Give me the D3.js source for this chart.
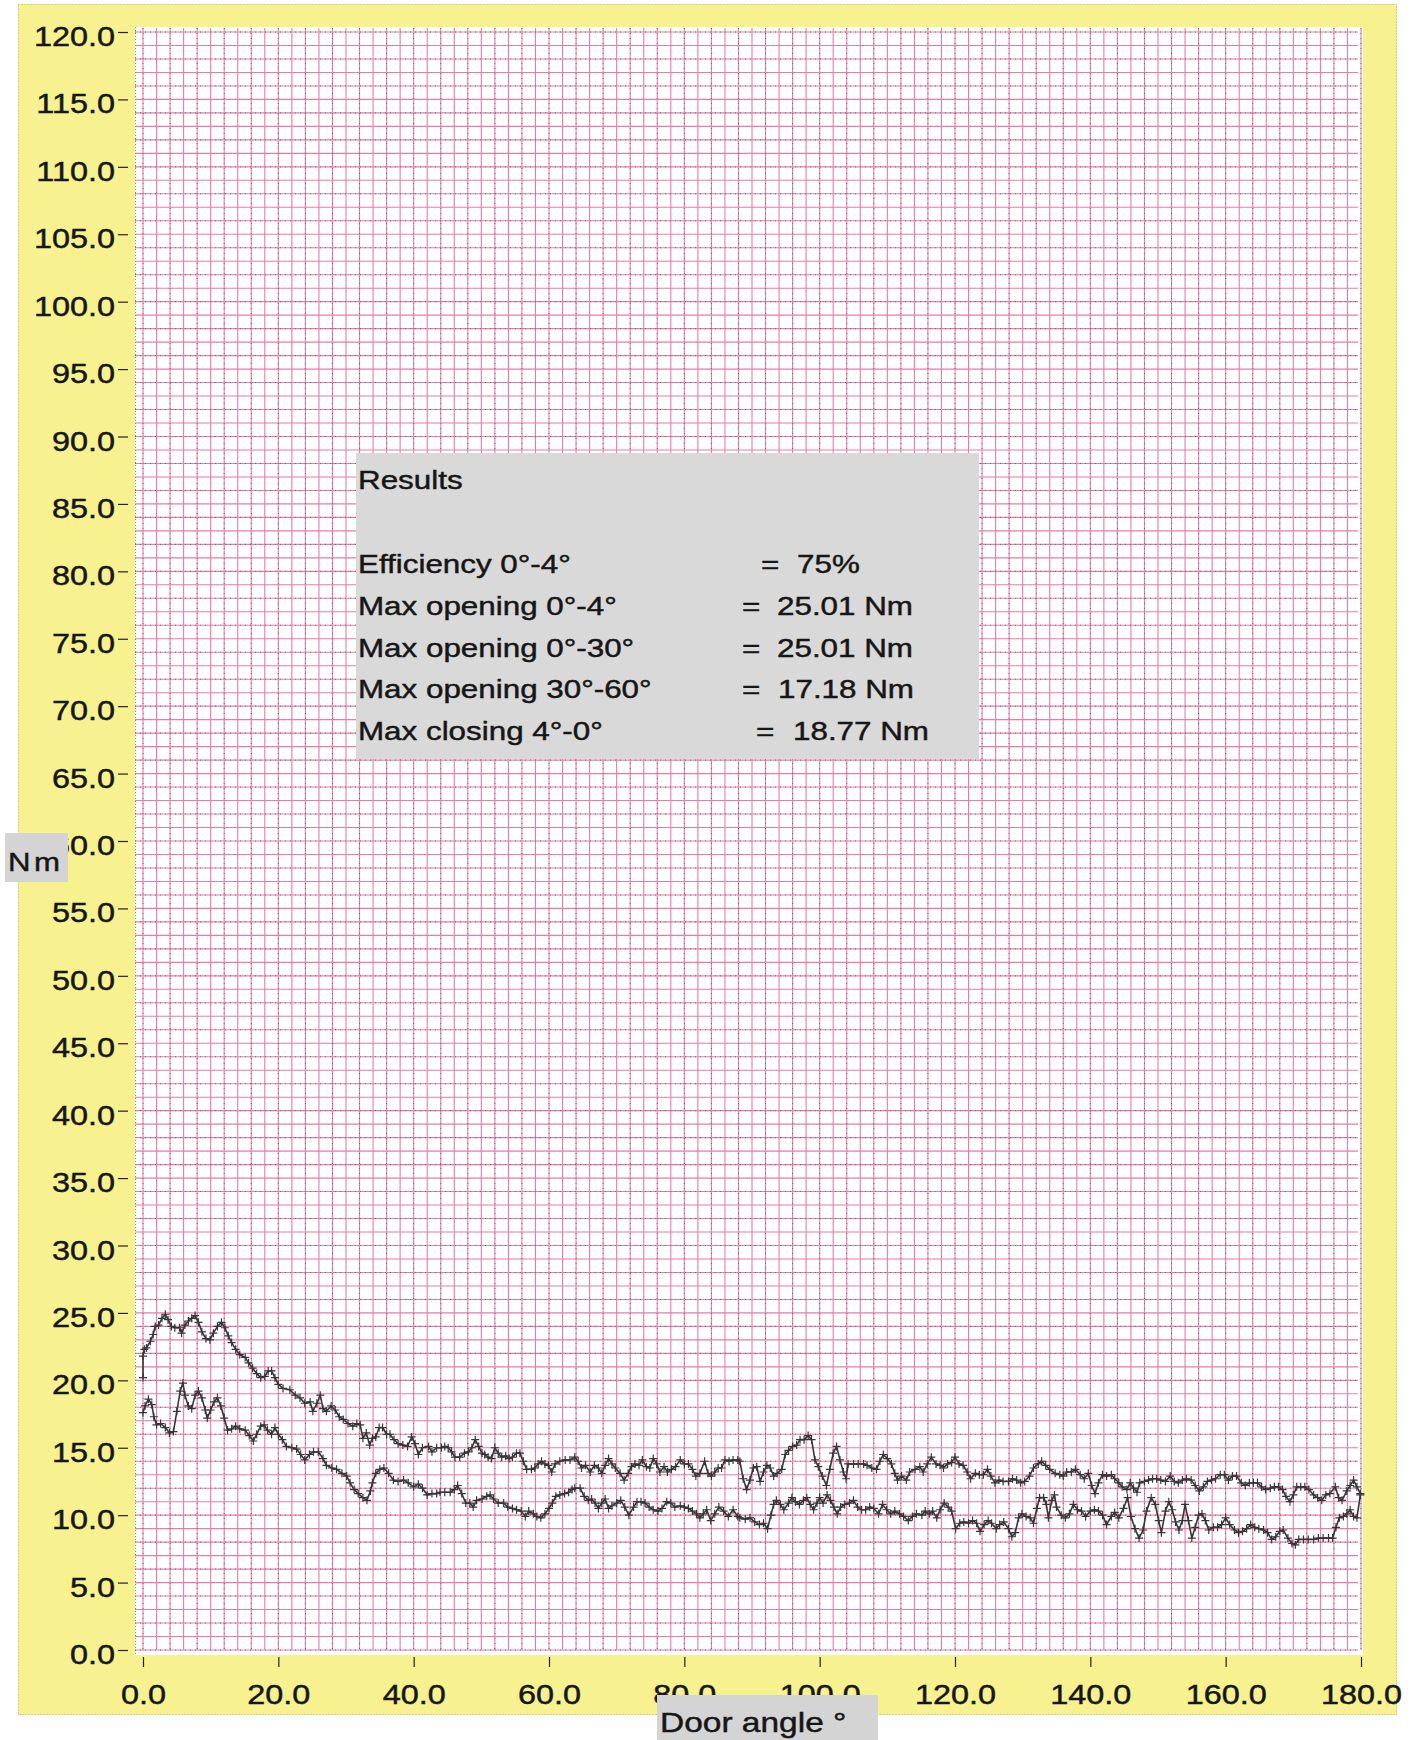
<!DOCTYPE html>
<html>
<head>
<meta charset="utf-8">
<script src="https://cdn.jsdelivr.net/npm/d3@7"></script>
<style>
  body { margin: 0; background: #ffffff; }
  svg { display: block; }
</style>
</head>
<body>
<svg id="chart" width="1414" height="1740"></svg>
<script>
// ---------------- DATA ----------------
const openAngle = [0,0,0.2,0.5,1.1,1.5,1.8,2.3,2.8,3.3,3.7,4.2,4.7,5.4,5.7,6.2,6.7,7.2,7.7,8.2,8.7,9.3,9.9,10.4,11.0,11.6,12.1,12.6,13.1,13.7,14.3,15.1,15.6,16.2,16.8,17.4,18.0,18.5,19.0,19.5,20.0,20.7,21.7,22.5,23.2,23.9,24.7,25.1,25.7,26.2,26.6,27.1,27.8,28.4,29.0,29.6,30.3,31.0,31.6,32.1,32.5,33.0,33.5,33.9,34.4,34.9,35.4,36.0,36.5,37.1,37.7,38.4,39.1,39.7,40.2,40.7,41.3,42.2,42.7,43.4,44.1,44.6,45.1,45.6,46.1,46.8,47.5,48.1,48.6,49.1,49.6,50.1,50.5,51.0,51.5,52.0,52.5,53.0,53.6,54.1,54.6,55.2,55.7,56.2,56.7,57.4,57.9,58.4,58.9,59.4,59.9,60.4,60.9,61.6,62.4,63.1,63.8,64.3,64.8,65.4,66.1,66.7,67.3,67.8,68.3,68.8,69.3,69.8,70.5,71.1,71.7,72.2,72.7,73.3,73.8,74.4,74.9,75.4,75.9,76.4,77.0,77.5,78.1,78.7,79.4,80.0,80.6,81.2,81.7,82.3,83.0,83.5,84.0,84.5,85.0,85.5,86.0,86.6,87.2,87.9,88.2,88.7,89.2,89.7,90.2,90.7,91.2,91.7,92.2,92.7,93.2,93.7,94.4,94.9,95.4,96.0,96.6,97.1,97.7,98.3,98.8,99.3,99.8,100.4,101.0,101.5,102.0,102.5,103.0,103.5,103.9,104.2,105.0,105.7,106.5,107.0,107.7,108.4,108.9,109.4,110.0,110.6,111.1,111.5,112.1,112.8,113.3,114.1,114.8,115.3,115.9,116.5,117.2,117.8,118.3,118.9,119.5,120.0,120.6,121.2,121.8,122.3,123.0,123.6,124.2,124.8,125.3,125.9,126.5,127.1,127.9,128.5,129.1,129.7,130.3,131.0,131.6,132.3,132.8,133.4,134.0,134.8,135.5,136.0,136.5,137.2,137.8,138.5,139.1,139.7,140.2,140.7,141.2,141.8,142.4,143.1,143.6,144.2,144.7,145.4,145.9,146.4,146.9,147.3,148.0,148.6,149.2,149.8,150.4,151.1,151.8,152.4,153.0,153.6,154.2,154.9,155.5,156.1,156.7,157.3,157.9,158.5,159.2,159.8,160.4,161.0,161.6,162.3,162.9,163.5,164.1,164.7,165.3,165.9,166.6,167.2,167.8,168.4,168.9,169.5,170.0,170.5,171.1,171.7,172.3,173.0,173.6,174.2,174.8,175.4,176.2,176.7,177.2,177.9,178.4,178.9,179.4,179.9];
const openTorque = [20.2,21.8,22.3,22.4,22.9,23.4,24.0,24.1,24.6,24.9,24.5,24.0,23.9,23.9,23.5,24.1,24.4,24.6,24.8,24.3,23.6,23.1,23.0,23.5,24.0,24.3,23.9,23.3,22.8,22.3,21.9,21.7,21.3,20.9,20.5,20.2,20.3,20.7,20.7,20.2,19.7,19.4,19.3,18.9,18.7,18.3,18.4,17.7,18.3,18.9,17.9,17.7,18.1,17.8,17.3,17.1,16.8,16.6,16.8,16.7,15.7,16.1,15.2,15.7,15.8,16.5,16.5,16.0,16.0,15.6,15.3,15.2,15.1,15.8,15.3,14.5,15.0,15.1,14.7,15.0,15.0,15.1,15.0,14.7,14.3,14.3,14.6,14.7,15.0,15.6,15.1,14.6,14.5,14.3,14.2,15.0,14.6,14.3,14.4,14.2,14.3,14.6,14.6,14.0,13.4,13.4,13.5,13.8,14.0,13.8,13.7,13.2,13.8,14.0,14.1,14.1,14.3,14.0,13.5,13.7,13.2,13.7,13.5,13.1,13.7,14.2,13.8,13.5,13.1,12.6,13.1,13.6,13.8,13.7,14.1,13.6,13.5,14.2,13.8,13.2,13.6,13.2,13.4,13.6,14.1,13.8,13.8,13.4,12.9,13.1,14.0,13.1,12.9,13.2,13.5,13.5,14.1,14.0,14.1,14.1,14.0,12.7,11.9,12.6,13.5,13.6,12.5,13.2,13.7,13.5,12.9,13.1,13.4,14.5,14.8,15.1,15.2,15.6,15.6,15.9,15.6,14.1,13.6,12.9,12.2,13.4,14.6,15.1,14.1,13.2,12.7,13.8,13.8,13.8,13.8,13.7,13.5,13.4,14.0,14.5,14.2,13.8,13.1,12.6,12.9,12.6,13.2,13.4,13.6,13.2,13.8,14.3,13.8,13.7,13.5,13.8,13.9,14.3,13.8,13.7,13.2,12.7,13.1,13.0,13.0,13.4,12.9,12.4,12.6,12.5,12.5,12.7,12.6,12.4,12.5,12.9,13.5,13.8,14.0,13.7,13.4,13.1,13.0,12.9,13.2,13.2,13.4,13.0,12.7,13.1,12.2,11.6,12.4,13.0,12.9,13.0,12.7,12.4,12.1,11.9,12.4,12.0,11.7,12.4,12.5,12.6,12.7,12.7,12.6,12.5,12.9,12.5,12.4,12.6,12.7,12.6,12.2,11.8,12.1,12.5,12.6,12.7,13.0,13.0,12.6,12.9,12.9,12.4,12.2,12.4,12.4,12.4,12.1,11.9,12.0,12.1,12.1,11.9,11.4,11.0,11.5,12.1,12.1,12.1,11.9,11.5,11.3,11.1,11.5,11.6,12.1,11.3,11.1,11.8,12.2,12.6,12.1,11.6];

const closeAngle = [0.0,0.3,0.8,1.3,1.6,2.0,2.6,3.3,3.9,4.5,5.0,5.5,5.9,6.2,6.7,7.2,7.7,8.2,8.7,9.2,9.5,10.0,10.5,11.0,11.5,12.0,12.5,13.1,13.7,14.3,15.1,15.7,16.3,16.8,17.4,17.9,18.4,19.0,19.5,20.0,20.6,21.2,22.0,22.7,23.3,23.9,24.6,25.2,25.9,26.6,27.1,27.9,28.6,29.4,30.1,30.6,31.2,31.8,32.5,33.1,33.6,33.9,34.4,35.0,35.6,36.3,37.0,37.7,38.5,39.2,40.0,40.7,41.3,42.0,42.7,43.4,43.9,44.6,45.4,46.0,46.5,47.1,47.7,48.3,48.8,49.3,50.1,50.8,51.3,51.8,52.5,53.3,53.9,54.6,55.2,55.9,56.5,57.0,57.7,58.2,58.8,59.4,60.0,60.5,61.0,61.6,62.3,62.9,63.4,63.8,64.6,65.2,65.8,66.3,66.8,67.3,67.8,68.3,68.8,69.3,70.0,70.6,71.2,71.8,72.5,73.0,73.6,74.2,74.8,75.4,76.1,76.7,77.4,78.0,78.6,79.4,80.0,80.6,81.2,81.8,82.3,82.8,83.3,83.9,84.5,85.1,85.8,86.5,87.2,87.9,88.2,89.0,89.7,90.4,91.1,91.7,92.3,92.8,93.2,93.6,94.2,94.7,95.4,95.9,96.4,97.0,97.6,98.1,98.6,99.1,99.6,100.0,100.5,101.1,101.6,102.1,102.6,103.1,103.7,104.4,105.0,105.6,106.2,106.8,107.4,108.0,108.7,109.3,109.9,110.5,111.1,111.8,112.4,113.1,113.7,114.3,115.1,115.6,116.2,116.7,117.3,117.8,118.4,119.0,119.5,120.1,120.7,121.3,122.0,122.6,123.2,123.7,124.3,124.9,125.4,126.1,126.6,127.2,127.9,128.4,128.9,129.4,129.9,130.5,131.1,131.6,132.1,132.5,133.1,133.5,133.8,134.3,134.7,135.0,135.7,136.3,136.9,137.5,138.1,138.7,139.3,140.0,140.6,141.2,141.8,142.4,143.1,143.6,144.2,144.9,145.5,146.0,146.6,147.2,147.8,148.3,149.0,149.6,150.1,150.5,151.1,151.6,152.1,152.6,153.1,153.6,154.0,154.5,155.0,155.5,156.0,156.5,157.0,157.5,158.2,158.8,159.4,160.0,160.6,161.3,161.9,162.5,163.1,163.7,164.3,164.9,165.6,166.2,166.8,167.4,168.0,168.5,169.2,169.8,170.3,170.8,171.5,172.2,173.0,173.7,174.4,175.2,175.8,176.3,176.8,177.4,177.9,178.4,178.9,179.4,179.9];
const closeTorque = [17.6,18.1,18.6,18.2,17.3,16.7,16.8,16.5,16.1,16.2,17.7,19.2,19.8,18.9,18.1,17.9,18.9,19.2,18.7,17.8,17.2,17.8,18.4,18.7,18.1,17.2,16.3,16.4,16.6,16.4,16.3,15.9,15.5,16.0,16.6,16.7,16.3,16.0,16.5,16.0,15.6,15.1,15.0,14.9,14.5,14.1,14.5,14.7,14.7,14.2,13.7,13.5,13.4,13.1,12.9,12.4,11.9,11.6,11.3,11.1,11.8,12.4,13.1,13.4,13.5,13.1,12.6,12.5,12.6,12.4,12.1,12.3,12.0,11.5,11.6,11.6,11.7,11.7,11.7,11.9,12.2,11.6,10.9,10.9,10.6,11.1,11.2,11.4,11.5,11.2,10.9,10.9,10.6,10.5,10.4,10.3,9.9,10.3,10.1,9.9,9.8,10.1,10.5,10.9,11.4,11.5,11.6,11.7,11.9,12.0,12.0,11.4,11.1,11.2,10.9,10.5,10.9,11.2,10.5,10.7,10.9,11.1,10.6,10.0,10.6,11.0,11.0,10.9,10.6,10.4,10.3,10.5,11.0,10.9,10.6,10.7,10.6,10.5,10.3,10.1,9.8,10.1,10.4,9.6,10.1,10.6,10.3,9.9,10.4,9.9,9.8,9.7,9.8,9.5,9.3,9.4,9.0,10.0,10.8,11.1,10.8,10.4,10.9,11.3,11.0,10.8,11.1,11.3,10.8,10.4,10.9,11.3,10.9,11.5,11.1,10.6,10.1,10.6,10.8,10.9,11.1,10.6,10.4,10.4,10.6,10.5,10.1,10.8,10.4,10.1,10.3,10.1,9.9,9.6,9.9,10.1,10.0,10.3,10.1,10.3,9.8,10.4,10.9,10.6,10.3,9.0,9.4,9.5,9.4,9.6,9.4,8.8,9.3,9.6,9.4,9.0,9.3,9.5,9.0,8.4,8.7,9.8,10.1,9.9,9.8,9.4,10.5,11.3,11.3,10.8,9.8,11.1,11.5,10.6,10.0,9.8,10.1,10.8,10.4,10.3,9.9,10.3,10.4,10.3,10.0,9.3,9.9,10.2,9.8,10.5,11.3,9.9,9.0,8.3,8.9,10.3,11.3,10.8,9.6,8.7,10.3,11.0,10.4,9.5,8.9,9.6,10.8,9.6,8.3,9.1,10.0,10.1,9.6,8.9,9.1,9.1,9.3,9.8,9.3,8.9,8.7,8.8,9.0,9.3,9.1,9.0,8.9,8.7,8.2,8.4,8.8,8.9,8.3,7.9,7.8,8.2,8.2,8.2,8.2,8.3,8.3,8.3,8.3,9.1,9.8,9.9,10.1,10.4,9.9,9.8,11.5];

const yTickValues = d3.range(0, 121, 5);
const xTickValues = d3.range(0, 181, 20);
const yTitle = "Nm";
const xTitle = "Door angle \u00B0";
const resultsTitle = "Results";
const resultLabels = ["Efficiency 0\u00B0-4\u00B0", "Max opening 0\u00B0-4\u00B0", "Max opening 0\u00B0-30\u00B0", "Max opening 30\u00B0-60\u00B0", "Max closing 4\u00B0-0\u00B0"];
const resultValues = ["75%", "25.01 Nm", "25.01 Nm", "17.18 Nm", "18.77 Nm"];

// ---------------- LAYOUT ----------------
const FONT = '"Liberation Sans", Arial, sans-serif';
const SX = 1.2;               // the scanned text is horizontally stretched
const INK = "#161616";
const eqX = [761, 742, 742, 742, 756];
const valX = [797, 777, 777, 778, 793];

const svg = d3.select("#chart");
const x = d3.scaleLinear().domain([0, 180]).range([143, 1361]);
const y = d3.scaleLinear().domain([0, 120]).range([1650, 32]);

function stext(parent, tx, ty, str, size, sx, extra) {
  const t = parent.append("text")
    .attr("transform", `translate(${tx},${ty}) scale(${sx},1)`)
    .attr("font-family", FONT)
    .attr("font-size", size)
    .attr("fill", INK)
    .attr("stroke", INK).attr("stroke-width", 0.45)
    .text(str);
  if (extra) extra(t);
  return t;
}

// yellow frame
svg.append("rect").attr("x", 18).attr("y", 4).attr("width", 1379).attr("height", 1711)
  .attr("fill", "#f7f190");
svg.append("rect").attr("x", 18.5).attr("y", 4.5).attr("width", 1378).attr("height", 1710)
  .attr("fill", "none").attr("stroke", "#b3af92").attr("stroke-width", 1).attr("stroke-dasharray", "1,2");

// white plotting paper
svg.append("rect").attr("x", 135).attr("y", 27).attr("width", 1228).attr("height", 1628).attr("fill", "#ffffff");

// pink grid
const grid = svg.append("g");
grid.selectAll("line.hp").data(d3.range(0, 121, 1)).join("line").attr("class", "hp")
  .attr("x1", 135).attr("x2", 1358).attr("y1", d => y(d)).attr("y2", d => y(d))
  .attr("stroke", "#ea7aa8").attr("stroke-width", 1.1);
grid.selectAll("line.vp").data(d3.range(0, 181, 2)).join("line").attr("class", "vp")
  .attr("x1", d => x(d)).attr("x2", d => x(d)).attr("y1", 28).attr("y2", y(0))
  .attr("stroke", "#ea7aa8").attr("stroke-width", 1.1);
// dotted dark grid
grid.selectAll("line.hd").data(d3.range(0, 121, 2)).join("line").attr("class", "hd")
  .attr("x1", 135).attr("x2", 1358).attr("y1", d => y(d)).attr("y2", d => y(d))
  .attr("stroke", "#6e6466").attr("stroke-width", 0.9).attr("stroke-dasharray", "1,4");
grid.selectAll("line.vd").data(d3.range(0, 181, 4)).join("line").attr("class", "vd")
  .attr("x1", d => x(d)).attr("x2", d => x(d)).attr("y1", 28).attr("y2", y(0))
  .attr("stroke", "#6e6466").attr("stroke-width", 0.9).attr("stroke-dasharray", "1,4");
// dotted left edge of the paper
svg.append("line").attr("x1", 135.5).attr("x2", 135.5).attr("y1", 27).attr("y2", 1655)
  .attr("stroke", "#888").attr("stroke-dasharray", "1,2");

// axes
const yAxis = d3.axisLeft(y).tickValues(yTickValues).tickFormat(d3.format(".1f")).tickSize(10).tickPadding(3);
const gy = svg.append("g").attr("transform", "translate(128,0)").call(yAxis)
  .attr("font-family", null).attr("font-size", null);
gy.select(".domain").remove();
gy.selectAll(".tick line").attr("stroke", "#222").attr("stroke-width", 1.2);
gy.selectAll(".tick text")
  .attr("x", null).attr("dy", null)
  .attr("transform", `translate(-13,13.5) scale(${SX},1)`)
  .attr("font-family", FONT).attr("font-size", 27).attr("fill", INK)
  .attr("stroke", INK).attr("stroke-width", 0.45);

const xAxis = d3.axisBottom(x).tickValues(xTickValues).tickFormat(d3.format(".1f")).tickSize(10);
const gx = svg.append("g").attr("transform", "translate(0,1657)").call(xAxis)
  .attr("font-family", null).attr("font-size", null);
gx.select(".domain").remove();
gx.selectAll(".tick line").attr("stroke", "#222").attr("stroke-width", 1.2);
gx.selectAll(".tick text")
  .attr("y", null).attr("dy", null)
  .attr("transform", `translate(0,47) scale(${SX},1)`)
  .attr("font-family", FONT).attr("font-size", 27).attr("fill", INK)
  .attr("stroke", INK).attr("stroke-width", 0.45);

// curves with "+" markers
const line = d3.line().x(d => x(d[0])).y(d => y(d[1]));
[[openAngle, openTorque], [closeAngle, closeTorque]].forEach(([a, t]) => {
  const pts = d3.zip(a, t);
  svg.append("path").datum(pts).attr("d", line)
    .attr("fill", "none").attr("stroke", "#363636").attr("stroke-width", 1.6).attr("stroke-linejoin", "round");
  svg.append("g").selectAll("path").data(pts).join("path")
    .attr("d", d => `M${x(d[0]) - 4},${y(d[1])}h8M${x(d[0])},${y(d[1]) - 4}v8`)
    .attr("stroke", "#363636").attr("stroke-width", 1.2);
});

// results box
const rb = svg.append("g");
rb.append("rect").attr("x", 356).attr("y", 453).attr("width", 623).attr("height", 306).attr("fill", "#d9d9d9");
stext(rb, 358, 489, resultsTitle, 25.5, 1.23);
resultLabels.forEach((lab, i) => {
  const by = 573 + i * 41.75;
  stext(rb, 358, by, lab, 25.5, 1.23);
  stext(rb, eqX[i], by, "=", 25.5, 1.23);
  stext(rb, valX[i], by, resultValues[i], 25.5, 1.23);
});

// axis titles in grey boxes
svg.append("rect").attr("x", 5).attr("y", 833).attr("width", 63).attr("height", 49).attr("fill", "#d4d4d4");
stext(svg, 8, 871, yTitle, 26, 1.2, t => t.attr("letter-spacing", 3));
svg.append("rect").attr("x", 657).attr("y", 1695).attr("width", 221).attr("height", 50).attr("fill", "#d4d4d4");
stext(svg, 660, 1732, xTitle, 27, 1.24);
</script>
</body>
</html>
